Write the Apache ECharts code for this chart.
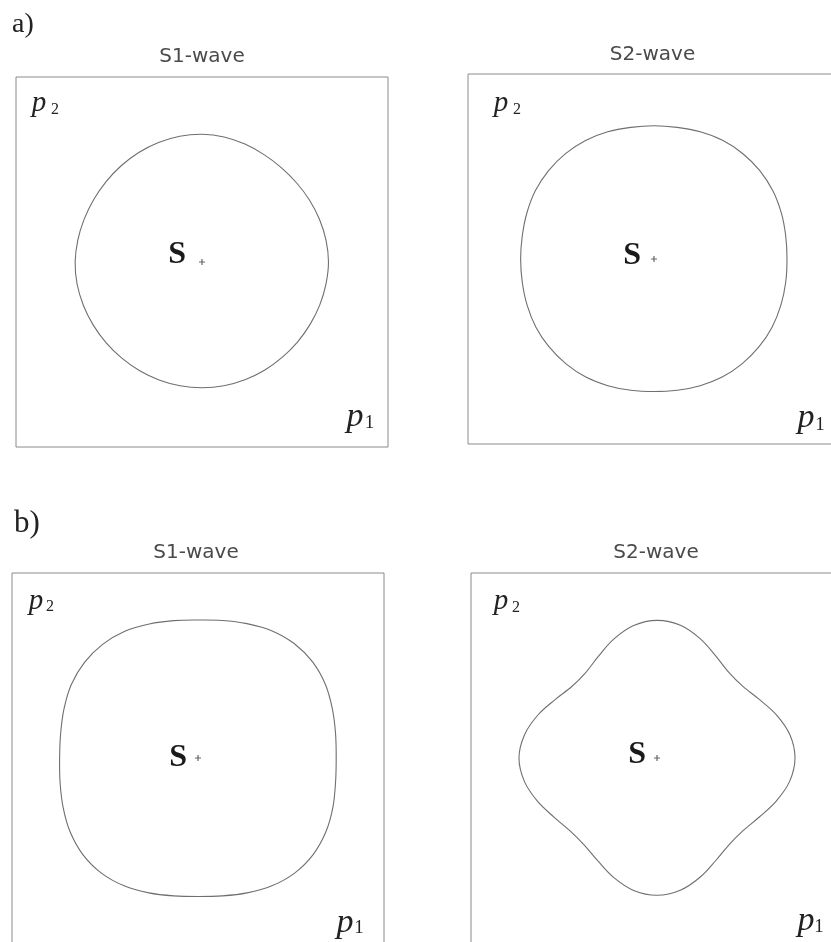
<!DOCTYPE html>
<html>
<head>
<meta charset="utf-8">
<script src="https://cdn.jsdelivr.net/npm/echarts@6/dist/echarts.min.js"></script>
<style>
  html, body { margin: 0; background: #fff; }
  #chart { width: 831px; height: 942px; }
</style>
</head>
<body>
<div id="chart"></div>
<script>
// directions the radii were read at, degrees counter-clockwise from the p1 axis
const angles = [0, 10, 20, 30, 40, 50, 60, 70, 80, 90, 100, 110, 120, 130, 140, 150, 160, 170,
  180, 190, 200, 210, 220, 230, 240, 250, 260, 270, 280, 290, 300, 310, 320, 330, 340, 350]

// slowness-curve radius in each direction, in units of half the panel width
const aS1Radius = [0.680, 0.677, 0.672, 0.667, 0.663, 0.663, 0.667, 0.675, 0.683,
  0.687, 0.687, 0.684, 0.680, 0.676, 0.673, 0.672, 0.674, 0.678,
  0.682, 0.682, 0.679, 0.676, 0.674, 0.673, 0.674, 0.675, 0.676,
  0.676, 0.676, 0.674, 0.672, 0.670, 0.670, 0.671, 0.674, 0.677]
const aS2Radius = [0.715, 0.719, 0.728, 0.737, 0.741, 0.741, 0.737, 0.728, 0.719,
  0.717, 0.719, 0.728, 0.736, 0.740, 0.740, 0.736, 0.727, 0.719,
  0.717, 0.719, 0.726, 0.733, 0.736, 0.736, 0.733, 0.725, 0.717,
  0.713, 0.717, 0.725, 0.733, 0.736, 0.736, 0.733, 0.726, 0.719]
const bS1Radius = [0.743, 0.751, 0.769, 0.791, 0.804, 0.804, 0.791, 0.769, 0.751,
  0.742, 0.750, 0.767, 0.787, 0.798, 0.798, 0.787, 0.767, 0.750,
  0.744, 0.753, 0.772, 0.794, 0.808, 0.808, 0.794, 0.772, 0.753,
  0.745, 0.753, 0.772, 0.794, 0.808, 0.808, 0.794, 0.772, 0.751]
const bS2Radius = [0.742, 0.725, 0.682, 0.633, 0.601, 0.601, 0.633, 0.682, 0.725,
  0.740, 0.723, 0.680, 0.631, 0.598, 0.598, 0.631, 0.680, 0.723,
  0.742, 0.724, 0.683, 0.638, 0.610, 0.610, 0.638, 0.683, 0.723,
  0.738, 0.722, 0.681, 0.635, 0.606, 0.606, 0.635, 0.681, 0.724]

// the source sits at the origin of each panel
const sourcePoint = [0, 0]

const panelTitles = ['S1-wave', 'S2-wave', 'S1-wave', 'S2-wave']
const rowLabels = ['a)', 'b)']
const sourceLabel = 'S'
const axisLabels = ['p', '1', 'p', '2'] // p1 / p2 with their subscripts

// layout of each panel (box, title, label spots) in page pixels
const panels = [
  { radius: aS1Radius, left: 16, top: 77, title: [202, 57], sGap: 13, sDy: -7, p2: [39, 106, 55, 108], p1: [355, 420, 369.5, 421.5] },
  { radius: aS2Radius, left: 468, top: 74, title: [652.5, 54.5], sGap: 10, sDy: -3, p2: [501, 106, 517, 108], p1: [806, 421, 820, 423.5] },
  { radius: bS1Radius, left: 12, top: 573, title: [196, 552.5], sGap: 8, sDy: 0, p2: [36, 603.5, 50, 605], p1: [345, 925.5, 359, 926.5] },
  { radius: bS2Radius, left: 471, top: 573, title: [656, 552.5], sGap: 8, sDy: -3, p2: [501, 604, 516, 606], p1: [806, 923.5, 819, 925.5] },
]
const rowLabelPos = [[12, 24.5, 28], [14, 524, 31]]

const BOX_W = 372
const BOX_H = 370
const CURVE_COLOR = '#6f6f6f'
const SERIF = '"Liberation Serif", "Times New Roman", serif'

function toPoints(radius) {
  return radius.map((r, i) => {
    const t = (angles[i] * Math.PI) / 180
    return [r * Math.cos(t), r * Math.sin(t)]
  })
}

// closed smooth outline through all the points, placed with the grid's axes
function outline(points) {
  return function (params, api) {
    if (params.dataIndex !== 0) return null
    return {
      type: 'polygon',
      shape: { points: points.map((p) => api.coord(p)), smooth: 0.35 },
      style: { fill: 'none', stroke: CURVE_COLOR, lineWidth: 1.1 },
    }
  }
}

function label(x, y, str, size, extra) {
  return {
    type: 'text',
    x: x,
    y: y,
    style: Object.assign(
      { text: str, align: 'center', verticalAlign: 'middle', fill: '#222', fontFamily: SERIF, fontSize: size },
      extra || {}
    ),
  }
}

// italic p with an upright subscript; y values are ink centres
function axisLabel(spot, pSize, subSize, sub) {
  return [
    label(spot[0], spot[1] - 0.08 * pSize, axisLabels[0], pSize, { fontStyle: 'italic' }),
    label(spot[2], spot[3] + 1.5, sub, subSize),
  ]
}

const grid = []
const xAxis = []
const yAxis = []
const series = []
let graphic = []

panels.forEach((p, i) => {
  grid.push({
    left: p.left,
    top: p.top,
    width: BOX_W,
    height: BOX_H,
    show: true,
    borderColor: '#8a8a8a',
    borderWidth: 1,
    backgroundColor: 'transparent',
    outerBoundsMode: 'none',
  })
  xAxis.push({ type: 'value', gridIndex: i, min: -1, max: 1, show: false, splitLine: { show: false } })
  yAxis.push({ type: 'value', gridIndex: i, min: -0.995, max: 0.995, show: false, splitLine: { show: false } })

  const pts = toPoints(p.radius)
  series.push({
    type: 'custom',
    xAxisIndex: i,
    yAxisIndex: i,
    data: pts,
    encode: { x: 0, y: 1 },
    renderItem: outline(pts),
    silent: true,
  })
  series.push({
    type: 'scatter',
    xAxisIndex: i,
    yAxisIndex: i,
    data: [sourcePoint],
    symbol: 'path://M0,2h5v1h-5z M2,0h1v5h-1z',
    symbolSize: 6,
    itemStyle: { color: '#666', opacity: 1 },
    label: {
      show: true,
      formatter: sourceLabel,
      position: 'left',
      distance: p.sGap,
      offset: [0, p.sDy],
      fontFamily: SERIF,
      fontSize: 32,
      fontWeight: 'bold',
      color: '#1a1a1a',
    },
    silent: true,
  })

  graphic.push(label(p.title[0], p.title[1], panelTitles[i], 20, { fontFamily: '"DejaVu Sans", sans-serif', fill: '#4a4a4a' }))
  graphic = graphic.concat(axisLabel(p.p2, 29, 16, axisLabels[3]))
  graphic = graphic.concat(axisLabel(p.p1, 34, 19, axisLabels[1]))
})

rowLabels.forEach((txt, i) => {
  const pos = rowLabelPos[i]
  graphic.push(label(pos[0], pos[1], txt, pos[2], { align: 'left' }))
})

const chart = echarts.init(document.getElementById('chart'))
chart.setOption({
  animation: false,
  backgroundColor: '#fff',
  grid: grid,
  xAxis: xAxis,
  yAxis: yAxis,
  series: series,
  graphic: graphic,
})
</script>
</body>
</html>
